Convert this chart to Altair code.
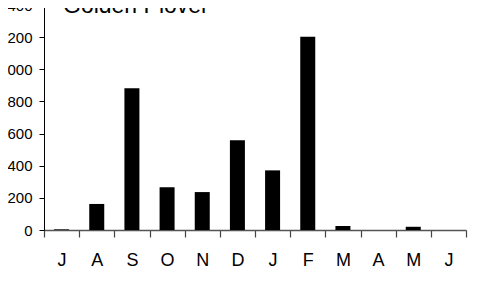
import altair as alt
import pandas as pd

months = ["J", "A", "S", "O", "N", "D", "J ", "F", "M", "A ", "M ", "J  "]
counts = [4, 162, 882, 266, 236, 558, 371, 1203, 25, 0, 20, 0]
title_text = "Golden Plover"

df = pd.DataFrame({"month": months, "count": counts})

FONT = "Liberation Sans"

bars = alt.Chart(df).mark_bar(size=15, color="black").encode(
    x=alt.X("month:N", sort=months, title=None,
            scale=alt.Scale(paddingInner=0, paddingOuter=0),
            axis=alt.Axis(labelAngle=0, labelFontSize=18, labelFont=FONT,
                          labelColor="black", labelPadding=14,
                          tickBand="extent", tickSize=7, tickColor="#444",
                          domainColor="#555", domainWidth=1.5, tickWidth=1.2,
                          grid=False)),
    y=alt.Y("count:Q", title=None,
            scale=alt.Scale(domain=[0, 1400], nice=False),
            axis=alt.Axis(values=[0, 200, 400, 600, 800, 1000, 1200, 1400],
                          labelFontSize=15, labelFont=FONT, labelColor="black",
                          labelPadding=7, tickSize=5, tickColor="black",
                          domainColor="black", grid=False)),
)

title = alt.Chart(pd.DataFrame({"t": [title_text]})).mark_text(
    font=FONT, fontSize=23, align="left", baseline="alphabetic", color="black"
).encode(text="t:N", x=alt.value(19), y=alt.value(8))

chart = alt.layer(bars, title).properties(
    width=422, height=225,
    autosize=alt.AutoSizeParams(type="none"),
    padding={"left": 36, "top": -3, "right": 22, "bottom": 50},
).configure_view(stroke=None)

chart.save("out.html", embed_options={"renderer": "svg", "actions": False})
